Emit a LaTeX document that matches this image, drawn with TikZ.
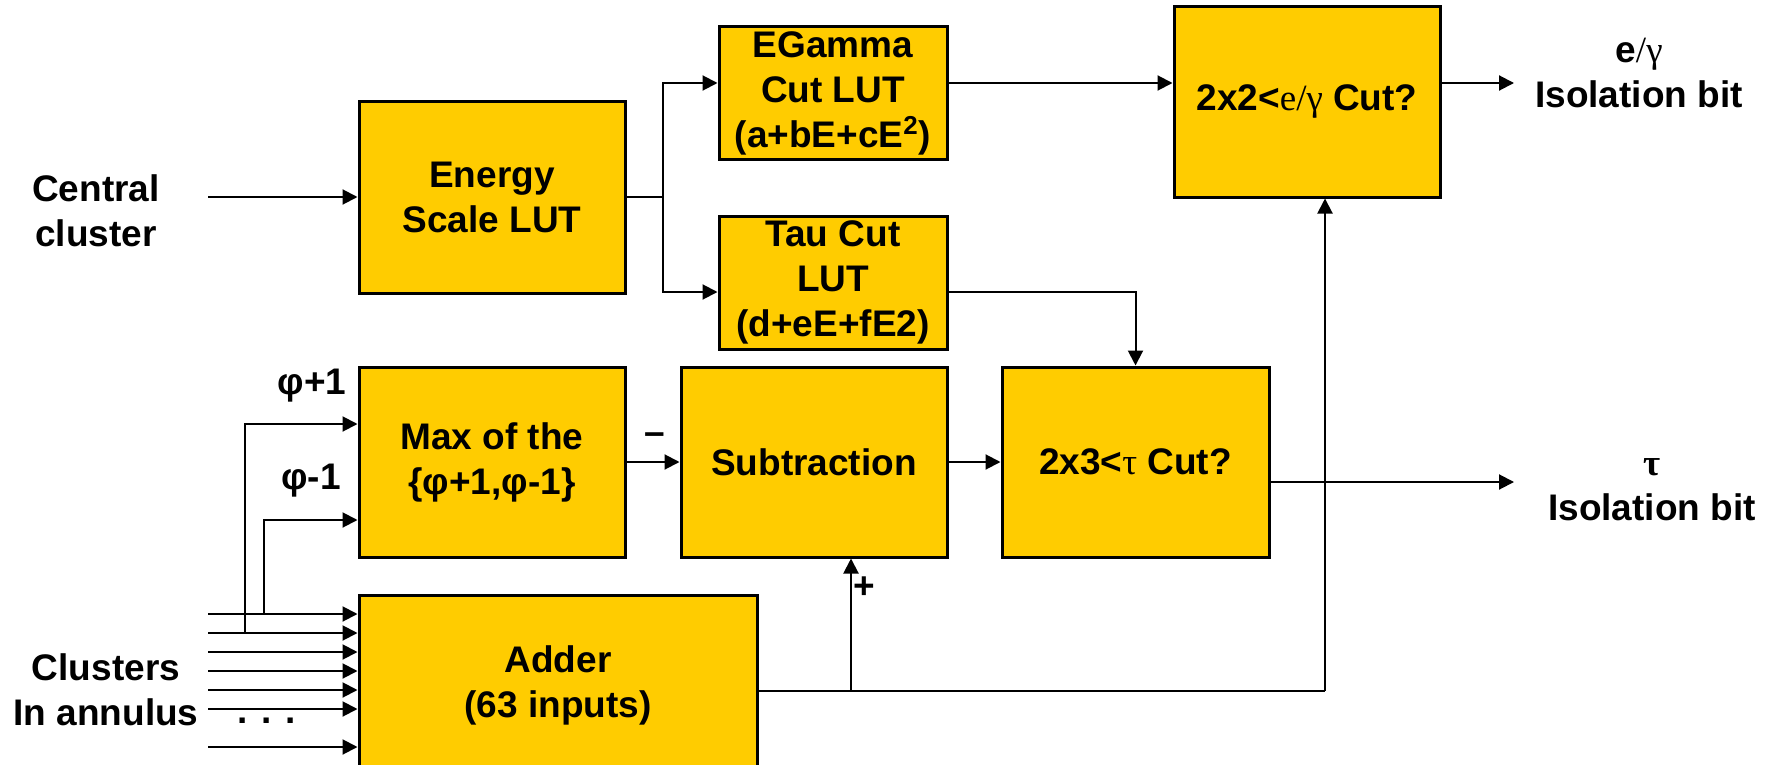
\documentclass[tikz,border=0pt]{standalone}
\usepackage{fontspec}
\setmainfont{Liberation Sans}
\newfontfamily\grk{Liberation Serif}
\usetikzlibrary{arrows.meta}
\definecolor{lutyellow}{HTML}{FFCC00}
\tikzset{
  block/.style={draw=black, line width=1.5pt, fill=lutyellow, inner sep=0pt, align=center,
    minimum width=133pt, minimum height=95pt, font=\bfseries\fontsize{18.5}{22.5}\selectfont},
  lbl/.style={inner sep=0pt, align=center, font=\bfseries\fontsize{18.5}{22.5}\selectfont},
  wire/.style={line width=1pt},
  arr/.style={wire, -{Triangle[length=7.5pt,width=7.5pt]}}
}
\begin{document}
\begin{tikzpicture}[x=0.5pt, y=-0.5pt]
        \useasboundingbox (0,0) rectangle (1771,765);
        \clip (0,0) rectangle (1771,765);

        % Nodes
        \node[block, minimum height=95.5pt] (energy) at (492,197.5) {Energy\\Scale LUT};
        \node[block, minimum width=114pt, minimum height=66pt] (egcut) at (833,93) {EGamma\\Cut LUT\\(a+bE+cE\textsuperscript{2})};
        \node[block, minimum width=114pt, minimum height=66.5pt] (taucut) at (833,282.5) {Tau Cut\\LUT\\(d+eE+fE2)};
        \node[block] (egiso) at (1307,102) {2x2<{\grk\mdseries e/γ} Cut?};
        \node[block] (maxphi) at (492,462) {Max of the\\\{φ+1,φ-1\}};
        \node[block] (subtr) at (814,462) {Subtraction};
        \node[block, minimum width=133.5pt] (tauiso) at (1135.5,462) {2x3<{\grk\mdseries τ} Cut?};
        \node[block, minimum width=199pt, minimum height=90pt] (adder) at (558,685) {Adder\\(63 inputs)};

        % Labels
        \node[lbl] (central) at (96,211) {Central\\cluster};
        \node[lbl] (annulus) at (106,690) {Clusters\\In annulus};
        \node[lbl] (phiplus) at (312,386) {φ+1};
        \node[lbl] (phiminus) at (311,481) {φ-1};
        \node[lbl] (minus) at (655,439) {–};
        \node[lbl] (plus) at (864,588) {+};
        \node[lbl] (egout) at (1639,73) {e{\grk\mdseries/γ}\\Isolation bit};
        \node[lbl] (tauout) at (1652,490) {{\grk τ}\\Isolation bit};
        \node[lbl, anchor=base] (dots) at (267,723) {. . .};

        % Coordinates
        \coordinate (cin) at (208,197);
        \coordinate (split) at (663,197);
        \coordinate (egend) at (1514,83);
        \coordinate (tauend) at (1514,482);
        \coordinate (tap) at (851,691);
        \coordinate (rise) at (1325,691);
        \coordinate (tapA) at (245,633);
        \coordinate (tapB) at (264,614);

        % Edges
        \draw[arr] (cin) -- (cin -| energy.west);
        \draw[wire] (energy.east |- split) -- (split);
        \draw[arr] (split) |- (egcut.west |- 0,83);
        \draw[arr] (split) |- (taucut.west |- 0,292);
        \draw[arr] (egcut.east |- 0,83) -- (egiso.west |- 0,83);
        \draw[arr] (egiso.east |- egend) -- (egend);
        \draw[arr] (taucut.east |- 0,292) -| (tauiso.north);
        \draw[arr] (maxphi) -- (subtr);
        \draw[arr] (subtr) -- (tauiso);
        \draw[arr] (tauiso.east |- tauend) -- (tauend);
        \draw[wire] (adder.east |- tap) -- (rise);
        \draw[arr] (tap) -- (tap |- subtr.south);
        \draw[arr] (rise) -- (rise |- egiso.south);

        % Adder inputs
        \foreach \y [count=\i] in {614,633,652,671,690,709,747} {
            \coordinate (in\i) at (208,\y);
            \draw[arr] (in\i) -- (in\i -| adder.west);
        }
        \draw[arr] (tapA) |- (maxphi.west |- 0,424);
        \draw[arr] (tapB) |- (maxphi.west |- 0,520);
    \end{tikzpicture}
\end{document}
